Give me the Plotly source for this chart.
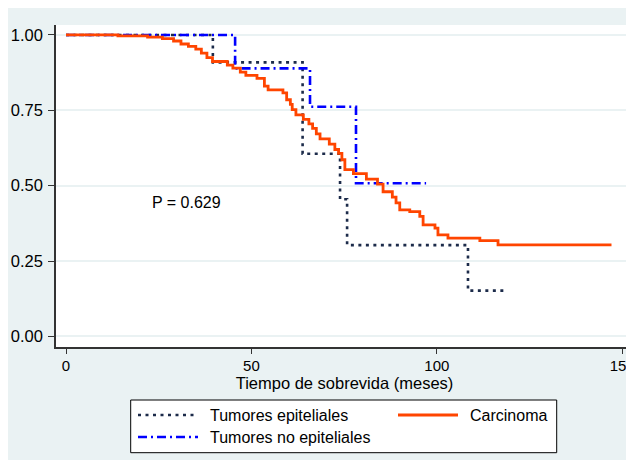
import plotly.graph_objects as go

# ---- data ----
epi_t = [0, 39.6, 63.8, 73.9, 75.8, 108.4, 118.1]
epi_s = [1.0, 0.909, 0.606, 0.455, 0.303, 0.152, 0.152]

noepi_t = [0, 45.6, 65.8, 78.2, 97.1]
noepi_s = [1.0, 0.889, 0.762, 0.508, 0.508]

carc_t = [0, 14, 22, 26, 29, 31, 33, 35, 36.5, 38, 39.5, 43.5, 45, 47, 48.5,
          51.5, 53.5, 54.5, 58.5, 59.5, 60.5, 61, 62, 64, 65.5, 66.5, 67.5,
          68.5, 71, 72.5, 73.5, 74.4, 75.2, 77.5, 81, 84, 85.5, 88, 89, 90,
          92.7, 95.4, 96.3, 99.5, 100.3, 103, 111.6, 116.5, 147.1]
carc_s = [1.0, 0.997, 0.993, 0.988, 0.98, 0.97, 0.962, 0.953, 0.94, 0.925,
          0.912, 0.9, 0.89, 0.877, 0.866, 0.856, 0.83, 0.818, 0.808, 0.785,
          0.77, 0.752, 0.735, 0.72, 0.705, 0.69, 0.672, 0.655, 0.638, 0.62,
          0.607, 0.586, 0.553, 0.54, 0.522, 0.505, 0.48, 0.462, 0.443, 0.42,
          0.414, 0.398, 0.37, 0.359, 0.337, 0.326, 0.318, 0.304, 0.304]

y_ticks = [0, 0.25, 0.5, 0.75, 1.0]
y_labels = ["0.00", "0.25", "0.50", "0.75", "1.00"]
x_ticks = [0, 50, 100, 150]

names = ["Tumores epiteliales", "Carcinoma", "Tumores no epiteliales"]
p_text = "P = 0.629"

# ---- styles ----
BG = "#EAF2F3"
NAVY = "#1c2b4a"
ORANGE = "#FF4500"
BLUE = "#0000FF"
FONT = "Liberation Sans, Arial, sans-serif"
DOT = "3px,4.5px"
DASHDOT = "9px,4px,2px,4px"

fig = go.Figure()
fig.add_trace(go.Scatter(x=epi_t, y=epi_s, mode="lines", line_shape="hv",
                         name=names[0], showlegend=False,
                         line=dict(color=NAVY, width=2.6, dash=DOT)))
fig.add_trace(go.Scatter(x=noepi_t, y=noepi_s, mode="lines", line_shape="hv",
                         name=names[2], showlegend=False,
                         line=dict(color=BLUE, width=2.6, dash=DASHDOT)))
fig.add_trace(go.Scatter(x=carc_t, y=carc_s, mode="lines", line_shape="hv",
                         name=names[1], showlegend=False,
                         line=dict(color=ORANGE, width=2.8)))

# page body adds an 8px offset; keep the figure inside the window (no scrollbars)
OFF = 8
W, H = 626, 452
L, R, T, B = 48, 1, 17, 113
pw, ph = W - L - R, H - T - B


def px(xp):
    return (xp - OFF - L) / pw


def py(yp):
    return (H - B - (yp - OFF)) / ph


shapes = []
# legend box
shapes.append(dict(type="rect", xref="paper", yref="paper", x0=px(130.7), x1=px(556.7),
                   y0=py(452.7), y1=py(400), fillcolor="white",
                   line=dict(color="black", width=1)))
# legend samples
shapes.append(dict(type="line", xref="paper", yref="paper", x0=px(138), x1=px(198),
                   y0=py(415), y1=py(415), line=dict(color=NAVY, width=2.6, dash=DOT)))
shapes.append(dict(type="line", xref="paper", yref="paper", x0=px(398), x1=px(458),
                   y0=py(415), y1=py(415), line=dict(color=ORANGE, width=2.8)))
shapes.append(dict(type="line", xref="paper", yref="paper", x0=px(138), x1=px(198),
                   y0=py(437), y1=py(437), line=dict(color=BLUE, width=2.6, dash=DASHDOT)))

annotations = [
    dict(x=22.6, y=0.443, xref="x", yref="y", text=p_text, showarrow=False,
         xanchor="left", yanchor="middle", font=dict(size=16, color="black", family=FONT)),
    dict(x=px(208), y=py(415), xref="paper", yref="paper", text=names[0], showarrow=False,
         xanchor="left", yanchor="middle", font=dict(size=16, color="black", family=FONT)),
    dict(x=px(468), y=py(415), xref="paper", yref="paper", text=names[1], showarrow=False,
         xanchor="left", yanchor="middle", font=dict(size=16, color="black", family=FONT)),
    dict(x=px(208), y=py(437), xref="paper", yref="paper", text=names[2], showarrow=False,
         xanchor="left", yanchor="middle", font=dict(size=16, color="black", family=FONT)),
]

fig.update_layout(
    template="none",
    width=W, height=H,
    margin=dict(l=L, r=R, t=T, b=B, pad=0, autoexpand=False),
    paper_bgcolor=BG, plot_bgcolor="white",
    font=dict(family=FONT, color="black", size=15),
    shapes=shapes, annotations=annotations,
    showlegend=False,
)
fig.update_xaxes(range=[-2.7, 152.9], tickvals=x_ticks, ticks="outside", ticklen=5,
                 tickwidth=1.2, tickcolor="#333333", showgrid=False, zeroline=False,
                 showline=True, linecolor="#333333", linewidth=1.5, automargin=False,
                 tickfont=dict(size=15), ticklabelstandoff=-1, ticklabeloverflow="allow",
                 title=dict(text="Tiempo de sobrevida (meses)", font=dict(size=16.5), standoff=3))
fig.update_yaxes(range=[-0.035, 1.033], tickvals=y_ticks, ticktext=y_labels,
                 ticks="outside", ticklen=6, tickwidth=1.2, tickcolor="#333333",
                 showgrid=True, gridcolor=BG, gridwidth=2, zeroline=False, automargin=False,
                 showline=True, linecolor="#333333", linewidth=1.5,
                 tickfont=dict(size=16.5), ticklabelstandoff=2)

fig.write_html("out.html")
